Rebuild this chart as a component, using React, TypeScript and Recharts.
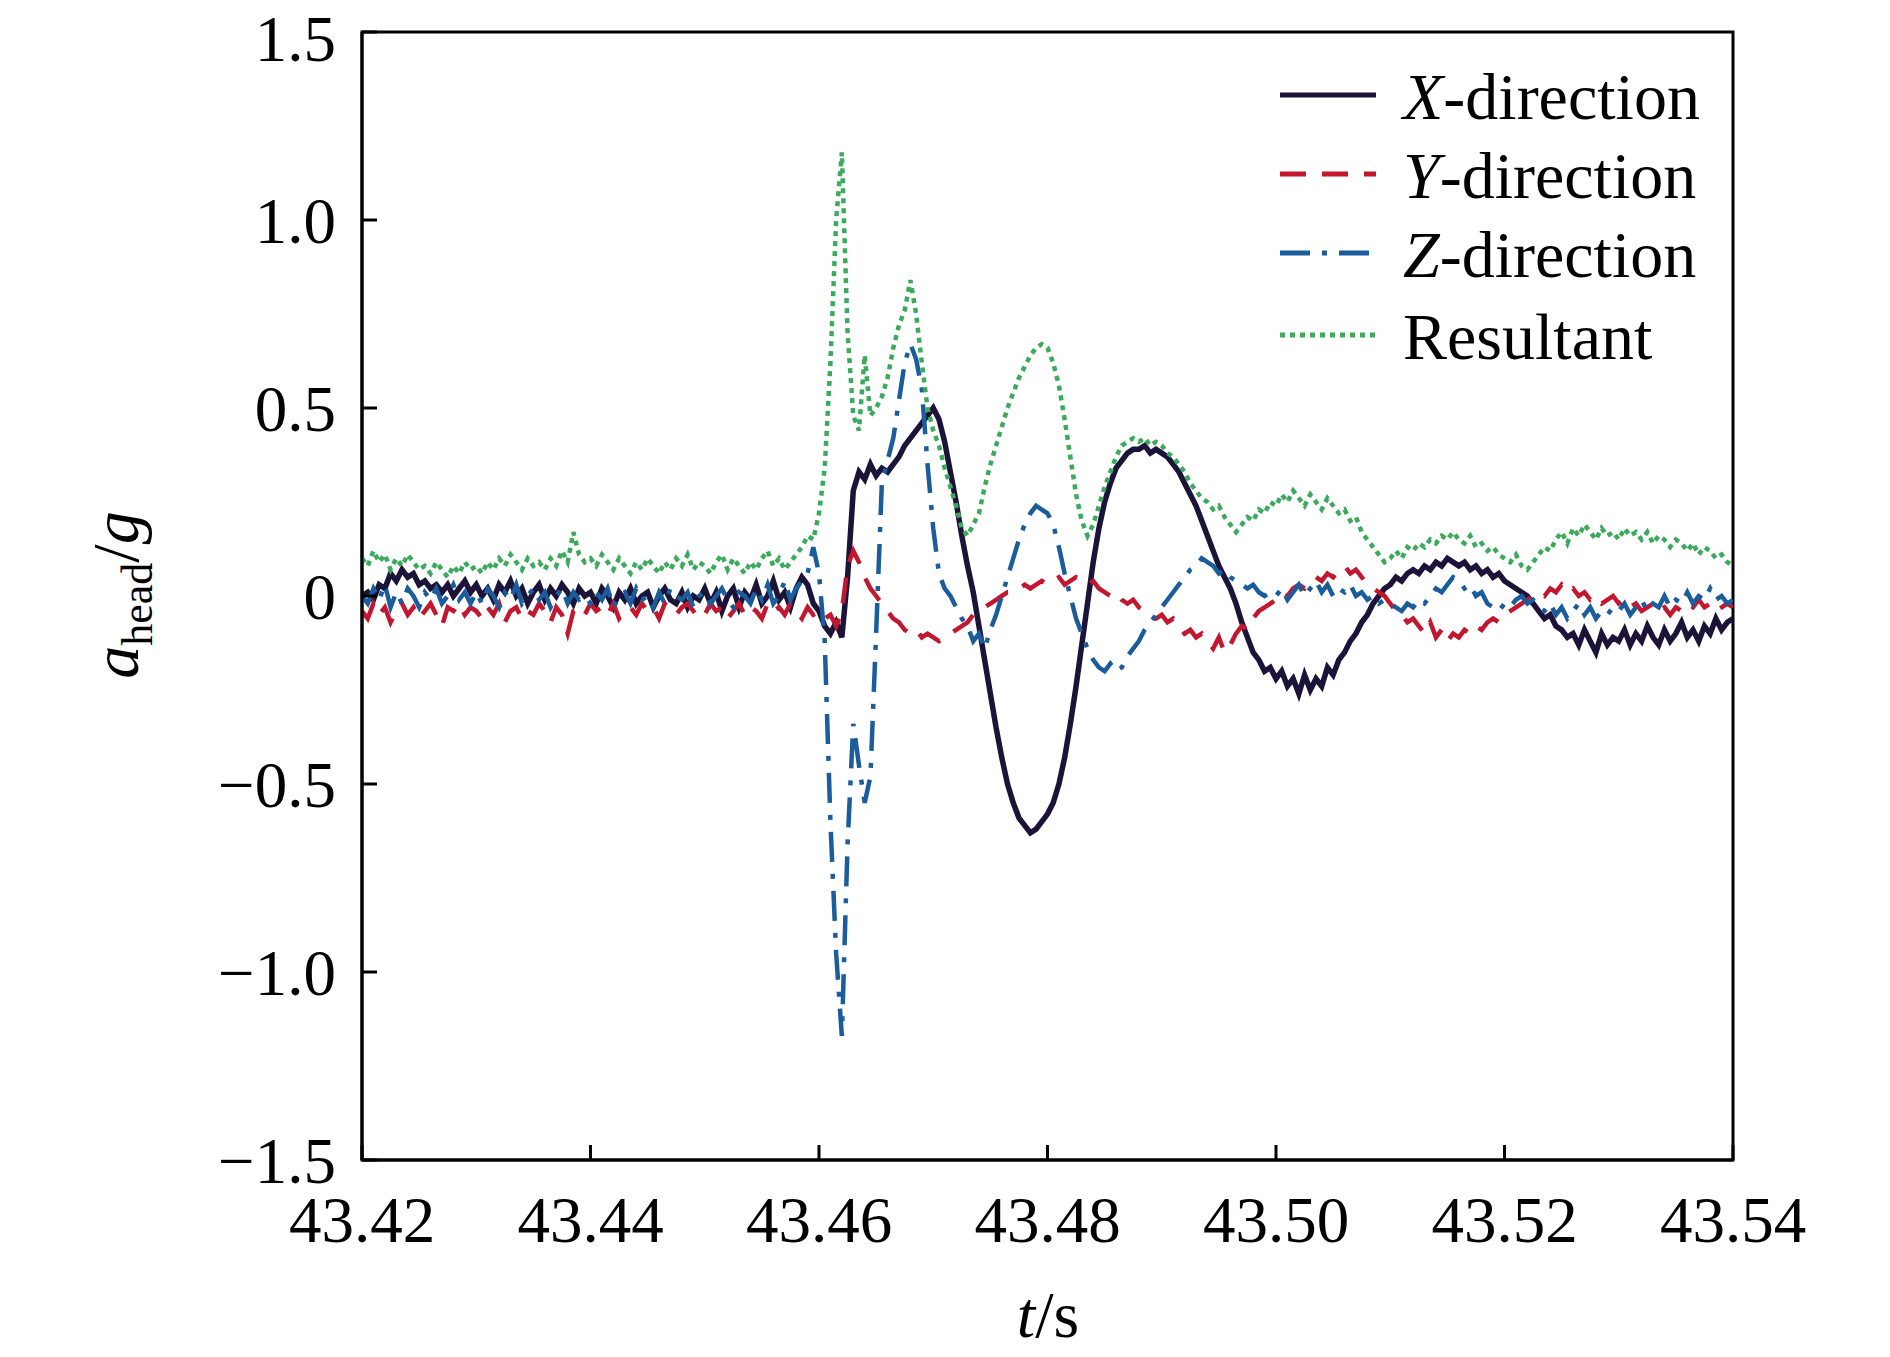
import React from "react";
import { Label, Legend, Line, LineChart, ReferenceArea, XAxis, YAxis } from "recharts";

// sampling grid: 43.42 s to 43.54 s, one sample every 0.5 ms
const T0 = 43.42;
const DT = 0.0005;

const xTicks = [43.42, 43.44, 43.46, 43.48, 43.5, 43.52, 43.54];
const yTicks = [-1.5, -1, -0.5, 0, 0.5, 1, 1.5];

// values, in g, 20 samples (10 ms) per row
const xDir = [
  0, 0.01, -0.01, 0.03, 0.02, 0.06, 0.04, 0.07, 0.05, 0.06, 0.03, 0.04, 0.02, 0.03, 0.01, 0.03, 0.0, 0.02, 0.04, 0.01,
  0.03, 0.0, 0.02, -0.01, 0.03, 0.01, 0.04, 0.0, 0.02, -0.02, 0.01, 0.03, -0.01, 0.02, 0.0, 0.03, 0.01, -0.02, 0.02, 0.0,
  0.01, -0.02, 0.02, 0.0, -0.03, 0.01, -0.01, 0.02, -0.02, 0.0, 0.01, -0.03, 0.0, 0.02, -0.01, -0.02, 0.01, -0.03, 0.0, -0.01,
  0.02, -0.02, 0.01, -0.04, 0.0, 0.02, -0.03, 0.01, -0.01, 0.03, -0.02, 0.0, 0.04, -0.01, 0.01, -0.03, 0.02, 0.05, 0.03, -0.02,
  -0.04, -0.08, -0.1, -0.07, -0.11, 0.05, 0.28, 0.33, 0.31, 0.35, 0.32, 0.34, 0.33, 0.35, 0.37, 0.4, 0.42, 0.44, 0.46, 0.48,
  0.5, 0.47, 0.41, 0.33, 0.25, 0.16, 0.08, 0.01, -0.08, -0.17, -0.26, -0.35, -0.43, -0.5, -0.55, -0.59, -0.61, -0.63, -0.62, -0.6,
  -0.58, -0.55, -0.5, -0.43, -0.34, -0.24, -0.13, -0.02, 0.09, 0.18, 0.25, 0.3, 0.34, 0.36, 0.38, 0.39, 0.39, 0.4, 0.38, 0.39,
  0.38, 0.37, 0.35, 0.33, 0.3, 0.27, 0.24, 0.2, 0.16, 0.12, 0.08, 0.05, 0.02, -0.02, -0.07, -0.11, -0.15, -0.17, -0.2, -0.19,
  -0.22, -0.2, -0.24, -0.22, -0.26, -0.21, -0.25, -0.22, -0.24, -0.19, -0.21, -0.17, -0.15, -0.12, -0.1, -0.07, -0.05, -0.02, 0.0, 0.02,
  0.03, 0.05, 0.04, 0.06, 0.07, 0.06, 0.08, 0.07, 0.09, 0.08, 0.1, 0.09, 0.08, 0.09, 0.07, 0.08, 0.06, 0.07, 0.05, 0.06,
  0.04, 0.03, 0.02, 0.01, 0.0, -0.02, -0.04, -0.06, -0.05, -0.08, -0.09, -0.11, -0.1, -0.13, -0.09, -0.12, -0.15, -0.1, -0.13, -0.11,
  -0.12, -0.09, -0.13, -0.1, -0.12, -0.08, -0.11, -0.13, -0.09, -0.12, -0.1, -0.07, -0.11, -0.09, -0.12, -0.08, -0.1, -0.06, -0.09, -0.07,
  -0.06,
];

const yDir = [
  -0.04, -0.06, -0.02, -0.05, -0.03, -0.07, -0.04, -0.02, -0.05, -0.03, -0.06, -0.04, -0.02, -0.05, -0.08, -0.03, -0.04, -0.02, -0.05, -0.03,
  -0.04, -0.06, -0.03, -0.05, -0.02, -0.07, -0.04, -0.03, -0.06, -0.04, -0.05, -0.02, -0.04, -0.07, -0.03, -0.05, -0.1, -0.04, -0.03, -0.05,
  -0.02, -0.04, -0.03, -0.05, -0.02, -0.06, -0.04, -0.03, -0.05, -0.02, -0.04, -0.03, -0.06, -0.02, -0.04, -0.05, -0.03, -0.02, -0.04, -0.03,
  -0.05, -0.02, -0.04, -0.03, -0.06, -0.04, -0.02, -0.05, -0.03, -0.04, -0.06, -0.02, -0.04, -0.03, -0.05, -0.02, -0.04, -0.06, -0.03, -0.05,
  -0.04, -0.06, -0.05, -0.08, -0.04, 0.08, 0.12, 0.09, 0.05, 0.02, 0.0, -0.02, -0.04, -0.06, -0.07, -0.09, -0.1, -0.09, -0.11, -0.1,
  -0.11, -0.12, -0.11, -0.1, -0.09, -0.08, -0.07, -0.05, -0.04, -0.03, -0.02, -0.01, 0.0, 0.01, 0.01, 0.02, 0.03, 0.02, 0.03, 0.04,
  0.03, 0.04, 0.05, 0.03, 0.04, 0.05, 0.04, 0.03, 0.04, 0.02, 0.01, 0.0, 0.01, -0.01, -0.02, -0.01, -0.03, -0.04, -0.05, -0.06,
  -0.05, -0.07, -0.06, -0.08, -0.1, -0.09, -0.11, -0.1, -0.12, -0.14, -0.11, -0.15, -0.13, -0.1, -0.08, -0.09, -0.06, -0.04, -0.03, -0.02,
  -0.01, 0.01, 0.0, 0.02, 0.03, 0.02, 0.04, 0.05, 0.04, 0.06, 0.05, 0.07, 0.08, 0.06, 0.07, 0.05, 0.03, 0.02, 0.01, 0.0,
  -0.02, -0.04, -0.05, -0.07, -0.06, -0.08, -0.1, -0.07, -0.11, -0.09, -0.12, -0.1, -0.11, -0.09, -0.1, -0.08, -0.09, -0.07, -0.06, -0.07,
  -0.05, -0.04, -0.03, -0.02, -0.01, 0.0, 0.01, 0.0, 0.02, 0.01, 0.03, 0.01, 0.02, 0.0, 0.01, -0.01, 0.0, -0.02, -0.01, 0.0,
  -0.02, -0.01, -0.03, -0.02, -0.04, -0.03, -0.02, -0.04, -0.03, -0.05, -0.03, -0.04, -0.02, -0.03, -0.01, -0.03, -0.02, -0.04, -0.03, -0.02,
  -0.03,
];

const zDir = [
  0.0, -0.02, 0.02, -0.01, 0.03, -0.03, 0.01, -0.02, 0.02, 0.0, -0.03, 0.01, -0.01, 0.02, -0.02, 0.0, 0.03, -0.01, 0.01, -0.02,
  0.01, -0.02, 0.02, 0.0, -0.03, 0.01, -0.01, 0.03, -0.02, 0.0, 0.02, -0.01, 0.01, -0.03, 0.0, 0.02, -0.02, 0.01, -0.01, 0.0,
  -0.02, 0.01, -0.01, 0.02, -0.03, 0.0, 0.01, -0.02, 0.02, -0.01, 0.0, -0.03, 0.01, -0.02, 0.02, 0.0, -0.01, 0.01, -0.03, 0.0,
  0.01, -0.02, 0.0, 0.02, -0.01, -0.03, 0.01, 0.0, -0.02, 0.02, -0.01, 0.03, -0.02, 0.0, 0.04, -0.01, 0.02, 0.04, 0.06, 0.13,
  0.06, -0.12, -0.6, -0.95, -1.17, -0.66, -0.34, -0.45, -0.55, -0.48, -0.1, 0.3, 0.36, 0.42, 0.52, 0.62, 0.67, 0.63, 0.55, 0.35,
  0.18, 0.06, 0.02, 0.0, -0.03, -0.06, -0.08, -0.12, -0.1, -0.14, -0.09, -0.05, 0.0, 0.05, 0.1, 0.15, 0.19, 0.22, 0.24, 0.23,
  0.22, 0.19, 0.13, 0.06, 0.0, -0.06, -0.1, -0.14, -0.17, -0.19, -0.2, -0.18, -0.2, -0.19, -0.16, -0.14, -0.12, -0.09, -0.07, -0.05,
  -0.03, -0.01, 0.01, 0.03, 0.05, 0.07, 0.08, 0.1, 0.09, 0.08, 0.06, 0.07, 0.05, 0.04, 0.03, 0.02, 0.03, 0.01, 0.0, 0.01,
  0.0, 0.02, -0.01, 0.01, 0.03, 0.0, 0.02, 0.04, 0.01, 0.03, 0.0, 0.02, 0.01, 0.03, 0.0, 0.01, -0.01, 0.0, -0.02, -0.01,
  -0.02, -0.03, -0.04, -0.02, -0.03, -0.01, -0.02, 0.0, 0.02, 0.01, 0.03, 0.05, 0.04, 0.02, 0.03, 0.0, 0.01, -0.02, -0.03, -0.04,
  -0.02, -0.03, -0.01, 0.0, -0.02, -0.01, -0.03, -0.04, -0.02, -0.05, -0.03, -0.06, -0.04, -0.02, -0.05, -0.03, -0.06, -0.04, -0.05, -0.03,
  -0.04, -0.02, -0.05, -0.03, -0.01, -0.04, -0.02, -0.03, 0.0, -0.03, -0.01, -0.02, 0.01, -0.02, 0.0, -0.01, 0.02, -0.01, 0.0, -0.02,
  -0.01,
];

const resultant = [
  0.1, 0.08, 0.12, 0.09, 0.11, 0.07, 0.1, 0.08, 0.11, 0.09, 0.07, 0.08, 0.06, 0.09, 0.07, 0.05, 0.08, 0.06, 0.09, 0.07,
  0.08, 0.06, 0.09, 0.07, 0.1, 0.08, 0.11, 0.09, 0.07, 0.1, 0.08, 0.09, 0.07, 0.1, 0.08, 0.12, 0.09, 0.17, 0.11, 0.09,
  0.1, 0.08, 0.11, 0.09, 0.07, 0.1, 0.08, 0.06, 0.09, 0.07, 0.1, 0.08, 0.06, 0.09, 0.07, 0.1, 0.08, 0.11, 0.07, 0.09,
  0.08, 0.06, 0.09, 0.11, 0.07, 0.1, 0.08, 0.06, 0.09, 0.07, 0.1, 0.12, 0.08, 0.1, 0.07, 0.09, 0.11, 0.13, 0.16, 0.15,
  0.22, 0.34, 0.62, 1.0, 1.18, 0.7, 0.48, 0.44, 0.64, 0.48, 0.5, 0.53, 0.58, 0.66, 0.72, 0.76, 0.84, 0.75, 0.62, 0.5,
  0.44, 0.4, 0.34, 0.29, 0.24, 0.18, 0.16, 0.19, 0.22, 0.29, 0.35, 0.4, 0.45, 0.5, 0.54, 0.58, 0.61, 0.64, 0.66, 0.67,
  0.66, 0.62, 0.56, 0.47, 0.37, 0.27, 0.2, 0.16, 0.19, 0.24, 0.29, 0.33, 0.37, 0.4, 0.41, 0.42, 0.41, 0.42, 0.4, 0.41,
  0.4, 0.38, 0.37, 0.35, 0.33, 0.3, 0.28, 0.26, 0.25, 0.23, 0.24, 0.21, 0.19, 0.17, 0.19, 0.21, 0.2, 0.23, 0.22, 0.25,
  0.24, 0.27, 0.25, 0.28, 0.26, 0.24, 0.27, 0.25, 0.23, 0.26, 0.24, 0.22, 0.23, 0.2, 0.21, 0.17, 0.15, 0.13, 0.11, 0.09,
  0.1, 0.12, 0.1, 0.13, 0.12, 0.14, 0.13, 0.15, 0.14, 0.16, 0.15, 0.17, 0.15, 0.14, 0.16, 0.13, 0.14, 0.12, 0.13, 0.11,
  0.1, 0.09, 0.11, 0.08, 0.07, 0.09, 0.11, 0.13, 0.12, 0.15, 0.17, 0.14, 0.18, 0.16, 0.19, 0.17, 0.15, 0.18, 0.16, 0.17,
  0.15, 0.18, 0.16, 0.17, 0.15, 0.17, 0.14, 0.16, 0.15, 0.13, 0.15, 0.14, 0.12, 0.14, 0.11, 0.13, 0.12, 0.1, 0.11, 0.09,
  0.08,
];

const data = xDir.map((_, i) => ({
  t: +(T0 + i * DT).toFixed(4),
  x: xDir[i],
  y: yDir[i],
  z: zDir[i],
  r: resultant[i],
}));

const FONT = "'Liberation Serif', 'Times New Roman', serif";

const series = [
  { key: "x", name: "X", color: "#1c1338", width: 5.5, dash: undefined },
  { key: "y", name: "Y", color: "#c3162f", width: 4.5, dash: "26 16" },
  { key: "z", name: "Z", color: "#1b5c9c", width: 4.5, dash: "30 12 5 12" },
  { key: "r", name: "Resultant", color: "#3caa5c", width: 4.5, dash: "5 5" },
];

function fmtY(v: number) {
  if (v === 0) return "0";
  const s = Math.abs(v).toFixed(1);
  return v < 0 ? `\u2212${s}` : s;
}

function LegendBox() {
  const rows = [45, 124, 203, 285];
  return (
    <svg width={460} height={330} style={{ fontFamily: FONT, overflow: "visible" }}>
      {series.map((s, i) => (
        <g key={s.key}>
          <line
            x1={10}
            x2={106}
            y1={rows[i]}
            y2={rows[i]}
            stroke={s.color}
            strokeWidth={5}
            strokeDasharray={s.dash}
          />
          <text x={133} y={rows[i] + 24} fontSize={66} fill="#000">
            {s.key === "r" ? (
              "Resultant"
            ) : (
              <>
                <tspan fontStyle="italic">{s.name}</tspan>-direction
              </>
            )}
          </text>
        </g>
      ))}
    </svg>
  );
}

function XTitle() {
  return (
    <text x={1048} y={1337} textAnchor="middle" fontSize={66} fontFamily={FONT} fill="#000">
      <tspan fontStyle="italic">t</tspan>/s
    </text>
  );
}

function YTitle() {
  // rotated around its own anchor so the string reads bottom to top
  return (
    <text
      x={0}
      y={0}
      transform="translate(138 595) rotate(-90)"
      textAnchor="middle"
      fontSize={66}
      fontFamily={FONT}
      fill="#000"
    >
      <tspan fontStyle="italic">a</tspan>
      <tspan fontSize={44} dy={14}>head</tspan>
      <tspan dy={-14}>/</tspan>
      <tspan fontStyle="italic">g</tspan>
    </text>
  );
}

export default function App() {
  const tick = { fontSize: 65, fill: "#000", fontFamily: FONT };
  return (
    <div style={{ position: "absolute", left: 0, top: 0, background: "#fff" }}>
      <LineChart
        width={1890}
        height={1357}
        data={data}
        margin={{ top: 32, right: 157, bottom: 37, left: 112 }}
      >
        <XAxis
          dataKey="t"
          type="number"
          domain={[43.42, 43.54]}
          ticks={xTicks}
          tickFormatter={(v: number) => v.toFixed(2)}
          allowDataOverflow
          height={160}
          tick={tick}
          tickSize={-15}
          tickMargin={51}
          axisLine={{ stroke: "#000", strokeWidth: 3 }}
          tickLine={{ stroke: "#000", strokeWidth: 3 }}
        >
          <Label content={XTitle} />
        </XAxis>
        <YAxis
          type="number"
          domain={[-1.5, 1.5]}
          ticks={yTicks}
          tickFormatter={fmtY}
          allowDataOverflow
          width={250}
          tick={tick}
          tickSize={-15}
          tickMargin={41}
          axisLine={{ stroke: "#000", strokeWidth: 3 }}
          tickLine={{ stroke: "#000", strokeWidth: 3 }}
        >
          <Label content={YTitle} />
        </YAxis>
        {series.map((s) => (
          <Line
            key={s.key}
            dataKey={s.key}
            name={s.name}
            type="linear"
            stroke={s.color}
            strokeWidth={s.width}
            strokeDasharray={s.dash}
            dot={false}
            activeDot={false}
            isAnimationActive={false}
          />
        ))}
        <ReferenceArea
          x1={43.42}
          x2={43.54}
          y1={-1.5}
          y2={1.5}
          fill="none"
          stroke="#000"
          strokeWidth={3}
          ifOverflow="visible"
        />
        <Legend
          layout="horizontal"
          align="center"
          verticalAlign="middle"
          content={LegendBox}
          wrapperStyle={{ position: "absolute", left: 1270, top: 50, width: 460, height: 330 }}
        />
      </LineChart>
    </div>
  );
}
